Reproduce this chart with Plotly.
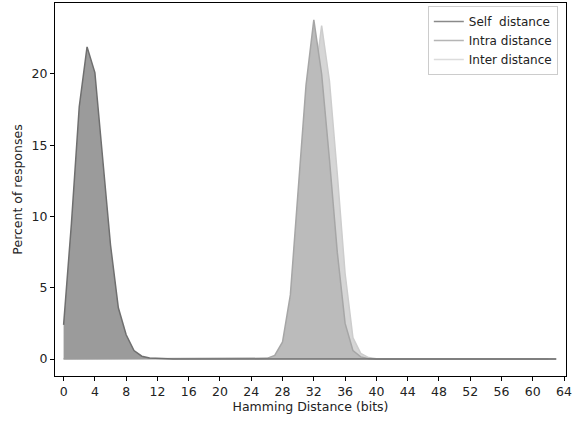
import plotly.graph_objects as go

bits = list(range(64))

self_vals = [2.4, 9.5, 17.7, 21.9, 20.1, 14.0, 8.0, 3.6, 1.7, 0.6, 0.2, 0.07, 0.03, 0.01] + [0.0] * 50
intra_vals = [0.0] * 26 + [0.05, 0.25, 1.2, 4.5, 12.0, 19.2, 23.8, 20.0, 14.0, 7.5, 2.5, 0.6, 0.15, 0.03] + [0.0] * 24
inter_vals = [0.0] * 27 + [0.05, 0.3, 1.5, 5.0, 12.0, 19.0, 23.4, 19.5, 13.0, 6.0, 1.5, 0.4, 0.1, 0.02] + [0.0] * 22

names = ["Self  distance", "Intra distance", "Inter distance"]
legend_colors = ["#8a8a8a", "#b5b5b5", "#dcdcdc"]
x_ticks = list(range(0, 65, 4))
y_ticks = [0, 5, 10, 15, 20]

fig = go.Figure()
fig.add_trace(go.Scatter(x=bits, y=inter_vals, name=names[2], mode="lines",
                         line=dict(color="#cdcdcd", width=1.5), showlegend=False,
                         fill="tozeroy", fillcolor="#d6d6d6"))
fig.add_trace(go.Scatter(x=bits, y=intra_vals, name=names[1], mode="lines",
                         line=dict(color="#a6a6a6", width=1.5), showlegend=False,
                         fill="tozeroy", fillcolor="#bbbbbb"))
fig.add_trace(go.Scatter(x=bits, y=self_vals, name=names[0], mode="lines",
                         line=dict(color="#6f6f6f", width=1.5), showlegend=False,
                         fill="tozeroy", fillcolor="#9b9b9b"))
for nm, col in zip(names, legend_colors):
    fig.add_trace(go.Scatter(x=[None], y=[None], name=nm, mode="lines",
                             line=dict(color=col, width=1.5), showlegend=True))

axis_common = dict(showline=True, linecolor="black", linewidth=1, mirror=True,
                   ticks="outside", ticklen=4, tickcolor="black", showgrid=False,
                   zeroline=False, tickfont=dict(family="DejaVu Sans", size=12.5, color="#222"))

fig.update_layout(
    width=585, height=421,
    margin=dict(l=55, r=19, t=3, b=45),
    plot_bgcolor="white", paper_bgcolor="white",
    font=dict(family="DejaVu Sans", size=12.5, color="#222"),
    xaxis=dict(range=[-1.1, 64.25], tickvals=x_ticks,
               title=dict(text="Hamming Distance (bits)", font=dict(size=12.5), standoff=3),
               **axis_common),
    yaxis=dict(range=[-1.19, 24.98], tickvals=y_ticks,
               title=dict(text="Percent of responses", font=dict(size=12.5), standoff=6),
               **axis_common),
    legend=dict(x=0.984, y=0.992, xanchor="right", yanchor="top",
                bgcolor="rgba(255,255,255,0.8)", bordercolor="#cccccc", borderwidth=1,
                font=dict(size=12), tracegroupgap=0, itemwidth=30),
    showlegend=True,
)

fig.write_html("out.html")
